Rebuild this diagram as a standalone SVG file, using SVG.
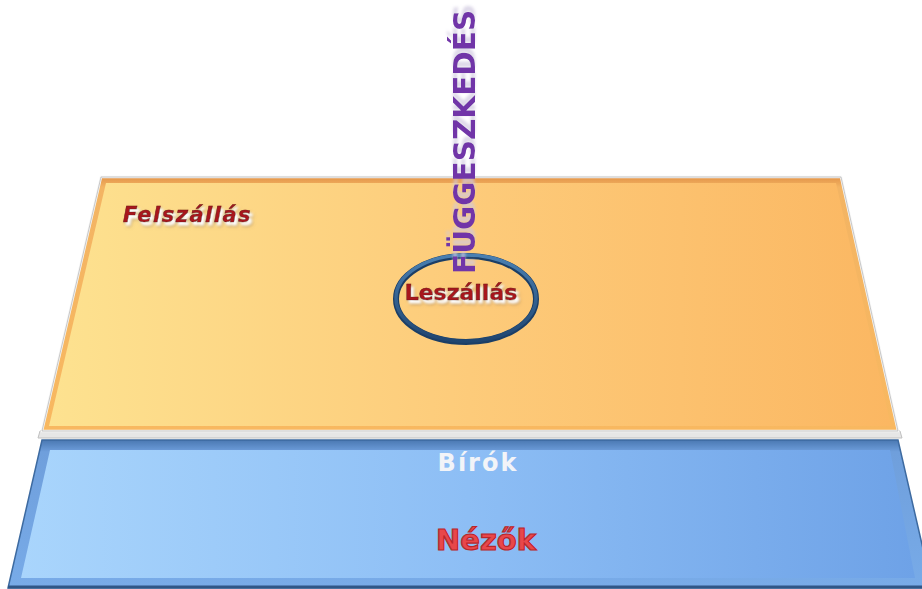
<svg xmlns="http://www.w3.org/2000/svg" width="922" height="589" viewBox="0 0 922 589">
<defs>
<linearGradient id="og" x1="0" y1="0" x2="1" y2="0">
<stop offset="0" stop-color="#fde290"/>
<stop offset="0.5" stop-color="#fdcb7a"/>
<stop offset="1" stop-color="#fbb762"/>
</linearGradient>
<linearGradient id="oe" x1="0" y1="0" x2="0" y2="1">
<stop offset="0" stop-color="#e39448"/>
<stop offset="0.04" stop-color="#f3b463"/>
<stop offset="1" stop-color="#f8b860"/>
</linearGradient>
<linearGradient id="bg" x1="0" y1="0" x2="1" y2="0">
<stop offset="0" stop-color="#a9d5fc"/>
<stop offset="0.5" stop-color="#8dbef5"/>
<stop offset="1" stop-color="#6ea2e7"/>
</linearGradient>
<linearGradient id="be" x1="0" y1="0" x2="0" y2="1">
<stop offset="0" stop-color="#4a78b2"/>
<stop offset="0.08" stop-color="#6f9fdc"/>
<stop offset="1" stop-color="#78abe8"/>
</linearGradient>
<linearGradient id="ring" x1="0" y1="0" x2="0" y2="1">
<stop offset="0" stop-color="#4a80b2"/>
<stop offset="1" stop-color="#1f4570"/>
</linearGradient>
<filter id="ws" x="-10%" y="-30%" width="130%" height="170%">
<feDropShadow dx="2.5" dy="3" stdDeviation="0.8" flood-color="#ffffff" flood-opacity="1"/>
<feDropShadow dx="1" dy="1.5" stdDeviation="1.2" flood-color="#8a6a50" flood-opacity="0.5"/>
</filter>
<filter id="ps" x="-10%" y="-30%" width="130%" height="160%">
<feDropShadow dx="6" dy="0" stdDeviation="1.5" flood-color="#cfc8e0" flood-opacity="0.7"/>
</filter>
<style>
.t{font-family:"DejaVu Sans","Liberation Sans",sans-serif;font-weight:bold}
.red{fill:#a8161f;stroke:#6a0c12;stroke-width:0.5}
</style>
</defs>
<g id="base">
<polygon points="40,431 900,431 902,438 38,438" fill="#e6e6e6" stroke="#c0c0c0" stroke-width="1"/>
</g>
<g id="orange">
<polygon points="101,177 841,177 898,431 42,431" fill="url(#oe)" stroke="#f6f6f6" stroke-width="2.5"/>
<polygon points="101,177 841,177 898,431 42,431" fill="none" stroke="#a8a8a8" stroke-width="0.6"/>
<polygon points="106,183 836,183 891,426 49,426" fill="url(#og)"/>
</g>
<g id="blue">
<polygon points="42,440 898,440 932,588 8,588" fill="url(#be)" stroke="#3d6aa0" stroke-width="1.5"/>
<polygon points="50,450 890,450 915,578 21,578" fill="url(#bg)"/>
<line x1="8" y1="587" x2="922" y2="587" stroke="#2f5687" stroke-width="3"/>
</g>
<g id="felszallas">
<text class="t red" x="123" y="222" font-size="21" font-style="italic" letter-spacing="1.5" filter="url(#ws)">Felszállás</text>
</g>
<g id="leszallas">
<ellipse cx="466" cy="299" rx="70" ry="43" fill="none" stroke="#1b3e66" stroke-width="6"/>
<ellipse cx="466" cy="298" rx="70" ry="43" fill="none" stroke="url(#ring)" stroke-width="3.5"/>
<text class="t red" x="461" y="300" font-size="22" text-anchor="middle" filter="url(#ws)">Leszállás</text>
</g>
<g id="fuggeszkedes">
<text class="t" transform="translate(475,274) rotate(-90)" font-size="29.5" fill="#7134a8" filter="url(#ps)">FÜGGESZKEDÉS</text>
</g>
<g id="birok">
<text class="t" x="478" y="471" font-size="24" text-anchor="middle" fill="#f2f4f8" letter-spacing="2">Bírók</text>
</g>
<g id="nezok">
<text class="t" x="486" y="550" font-size="29" text-anchor="middle" fill="#e8474a" stroke="#b8262a" stroke-width="1.2">Nézők</text>
</g>
</svg>
